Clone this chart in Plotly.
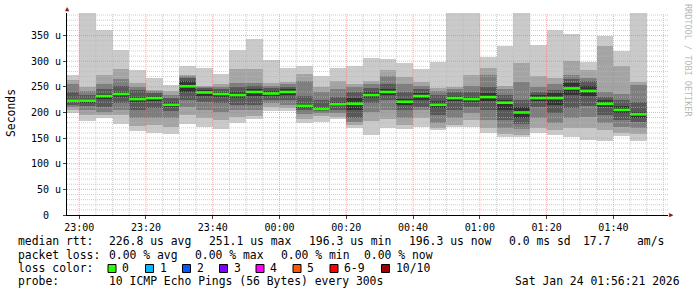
import plotly.graph_objects as go
from datetime import datetime, timedelta

# ---------------- data ----------------
start_time = datetime(2026, 1, 23, 22, 55)
n_intervals = 35
step_min = 5

# ten sorted ping RTTs (microseconds) per 5-minute interval
p01 = [198,184,189,178,163,160,158,178,172,168,179,188,202,203,180,182,187,169,156,169,167,172,165,171,172,160,152,153,160,156,153,146,145,155,145]
p02 = [205,195,196,195,174,176,172,195,189,185,192,193,211,208,187,193,191,175,184,187,176,190,169,176,185,169,158,156,170,165,170,170,165,160,158]
p03 = [210,205,200,205,190,190,190,211,205,200,205,205,218,215,197,198,198,182,200,205,190,205,180,190,198,185,170,168,190,180,190,192,180,172,170]
p04 = [214,212,210,218,205,208,202,224,221,218,215,215,225,225,204,203,205,190,218,225,205,211,195,205,211,205,185,178,210,198,208,212,195,185,182]
p05 = [220,219,226,230,220,222,210,240,232,230,228,232,232,235,209,205,212,205,228,235,215,225,208,222,220,222,205,190,222,215,235,232,210,198,190]
p06 = [226,226,236,240,230,232,220,262,244,240,240,246,242,245,217,210,220,228,240,245,227,238,222,232,230,238,225,210,235,238,258,252,225,212,200]
p07 = [240,235,245,252,244,238,228,268,248,245,250,252,248,250,232,225,230,240,247,255,240,245,235,240,240,250,235,224,240,244,265,262,230,225,221]
p08 = [255,241,255,265,250,241,235,271,250,250,258,258,252,255,262,240,245,250,255,271,255,252,242,245,252,273,245,260,250,255,273,267,240,236,254]
p09 = [263,249,273,285,258,243,241,274,252,256,284,284,257,260,275,250,262,256,261,283,270,260,247,249,273,286,252,296,271,267,301,283,329,291,260]
p10 = [273,410,360,322,283,268,254,291,286,275,322,343,302,287,291,271,286,291,306,304,297,284,299,410,410,309,329,410,332,361,353,299,349,319,410]
median_rtt = [223,223,232,236,226,228,215,251.1,239,236,234,240,237,240,213,207,216,217,234,240,221,232,215,228,226,230,219,200,228,228,247,242,217,205,196.3]

y_tick_vals = [0, 50, 100, 150, 200, 250, 300, 350]
y_tick_text = ["0\u00a0\u00a0", "50 u", "100 u", "150 u", "200 u", "250 u", "300 u", "350 u"]
x_tick_text = ["23:00", "23:20", "23:40", "00:00", "00:20", "00:40", "01:00", "01:20", "01:40"]

loss_labels = ["0", "1", "2", "3", "4", "5", "6-9", "10/10"]
loss_colors = ["#26ff00", "#00b8ff", "#0059ff", "#7e00ff", "#ff00ff", "#ff5500", "#ff0000", "#a10000"]

smoke_grays = ["#cacaca", "#a4a4a4", "#7e7e7e", "#585858", "#323232"]

# ---------------- layout geometry ----------------
W, H = 697, 297
L, R, T, B = 67, 29, 13, 82
PW, PH = W - L - R, H - T - B
FONT = "DejaVu Sans Mono"


def px(x):
    return (x - L) / PW


def py(y):
    return (H - B - y) / PH


times = [start_time + timedelta(minutes=step_min * i) for i in range(n_intervals)]
pings = [p01, p02, p03, p04, p05, p06, p07, p08, p09, p10]

fig = go.Figure()

# smoke: bands between ping i and ping (11-i)
for k in range(5):
    lo = pings[k]
    hi = pings[9 - k]
    fig.add_trace(go.Bar(
        x=times, base=lo, y=[h - l for h, l in zip(hi, lo)],
        offset=0, width=step_min * 60 * 1000,
        marker=dict(color=smoke_grays[k], line=dict(width=0)),
        showlegend=False, hoverinfo="skip"))

# median line segments
mx, my = [], []
for t, m in zip(times, median_rtt):
    mx += [t, t + timedelta(minutes=step_min), None]
    my += [m, m, None]
fig.add_trace(go.Scatter(x=mx, y=my, mode="lines",
                         line=dict(color=loss_colors[0], width=2.6),
                         showlegend=False, hoverinfo="skip"))

x_start = datetime(2026, 1, 23, 22, 56, 21)
x_end = datetime(2026, 1, 24, 1, 56, 21)
y_max = 394

# grid (drawn above the smoke, as rrdtool does)
shapes = []
t = datetime(2026, 1, 23, 23, 0)
while t < x_end:
    major = (t.minute % 20 == 0)
    shapes.append(dict(type="line", xref="x", yref="paper", x0=t, x1=t, y0=0, y1=1,
                       layer="above",
                       line=dict(color="rgba(225,110,110,0.55)" if major else "rgba(185,185,185,0.7)",
                                 width=1, dash="1px,1px")))
    t += timedelta(minutes=5)
for v in range(10, y_max, 10):
    major = (v % 50 == 0)
    shapes.append(dict(type="line", xref="paper", yref="y", x0=0, x1=1, y0=v, y1=v,
                       layer="above",
                       line=dict(color="rgba(225,110,110,0.55)" if major else "rgba(185,185,185,0.7)",
                                 width=1, dash="1px,1px")))

annotations = []


def txt(s, x, y, size=11.4, color="#000000", anchor="left", angle=0):
    annotations.append(dict(text=s, x=px(x), y=py(y), xref="paper", yref="paper",
                            xanchor=anchor, yanchor="middle", showarrow=False,
                            textangle=angle,
                            font=dict(family=FONT, size=size, color=color)))


# legend lines
y1, y2, y3, y4 = 241.5, 254.5, 268, 281
for s, x in [("median rtt:", 16), ("226.8 us avg", 107), ("251.1 us max", 207),
             ("196.3 us min", 307), ("196.3 us now", 406.7), ("0.0 ms sd", 506.7),
             ("17.7", 580.7), ("am/s", 635)]:
    txt(s, x, y1)
for s, x in [("packet loss:", 16), ("0.00 % avg", 107), ("0.00 % max", 193),
             ("0.00 % min", 279), ("0.00 % now", 361.7)]:
    txt(s, x, y2)
txt("loss color:", 16, y3)
box_x = [108, 145.5, 182.5, 219.5, 256, 293, 330, 381.5]
for bx, lab, col in zip(box_x, loss_labels, loss_colors):
    shapes.append(dict(type="rect", xref="paper", yref="paper",
                       x0=px(bx), x1=px(bx + 8), y0=py(272.5), y1=py(264.5),
                       fillcolor=col, line=dict(color="#000000", width=1), layer="above"))
    txt(lab, bx + 12, y3)
txt("probe:", 16, y4)
txt("10 ICMP Echo Pings (56 Bytes) every 300s", 107, y4)
txt("Sat Jan 24 01:56:21 2026", 513, y4)

# axis titles / watermark
txt("Seconds", 11, 113, size=11.4, anchor="center", angle=-90)
txt("RRDTOOL / TOBI OETIKER", 688, 60, size=8.5, color="#b8b8b8", anchor="center", angle=90)

# axis arrows
txt("\u25b2", 67, 9, size=7, color="#8b1a1a", anchor="center")
txt("\u25b6", 671.5, 215, size=7, color="#8b1a1a", anchor="center")

x_tick_vals = [datetime(2026, 1, 23, 23, 0) + timedelta(minutes=20 * i) for i in range(len(x_tick_text))]

fig.update_layout(
    width=W, height=H,
    margin=dict(l=L, r=R, t=T, b=B, pad=0),
    paper_bgcolor="#ffffff", plot_bgcolor="#ffffff",
    barmode="overlay", bargap=0,
    showlegend=False,
    shapes=shapes, annotations=annotations,
    font=dict(family=FONT, size=10, color="#000000"),
    xaxis=dict(type="date", range=[x_start, x_end], showgrid=False, zeroline=False,
               tickvals=x_tick_vals, ticktext=x_tick_text,
               ticks="outside", ticklen=3, tickcolor="#444444",
               showline=True, linecolor="#000000", linewidth=1,
               tickfont=dict(family=FONT, size=10, color="#000000"),
               fixedrange=True),
    yaxis=dict(range=[0, y_max], showgrid=False, zeroline=False,
               tickvals=y_tick_vals, ticktext=y_tick_text,
               ticks="outside", ticklen=3, tickcolor="#444444",
               showline=True, linecolor="#000000", linewidth=1,
               tickfont=dict(family=FONT, size=10, color="#000000"),
               fixedrange=True),
)

fig.write_html("out.html")
